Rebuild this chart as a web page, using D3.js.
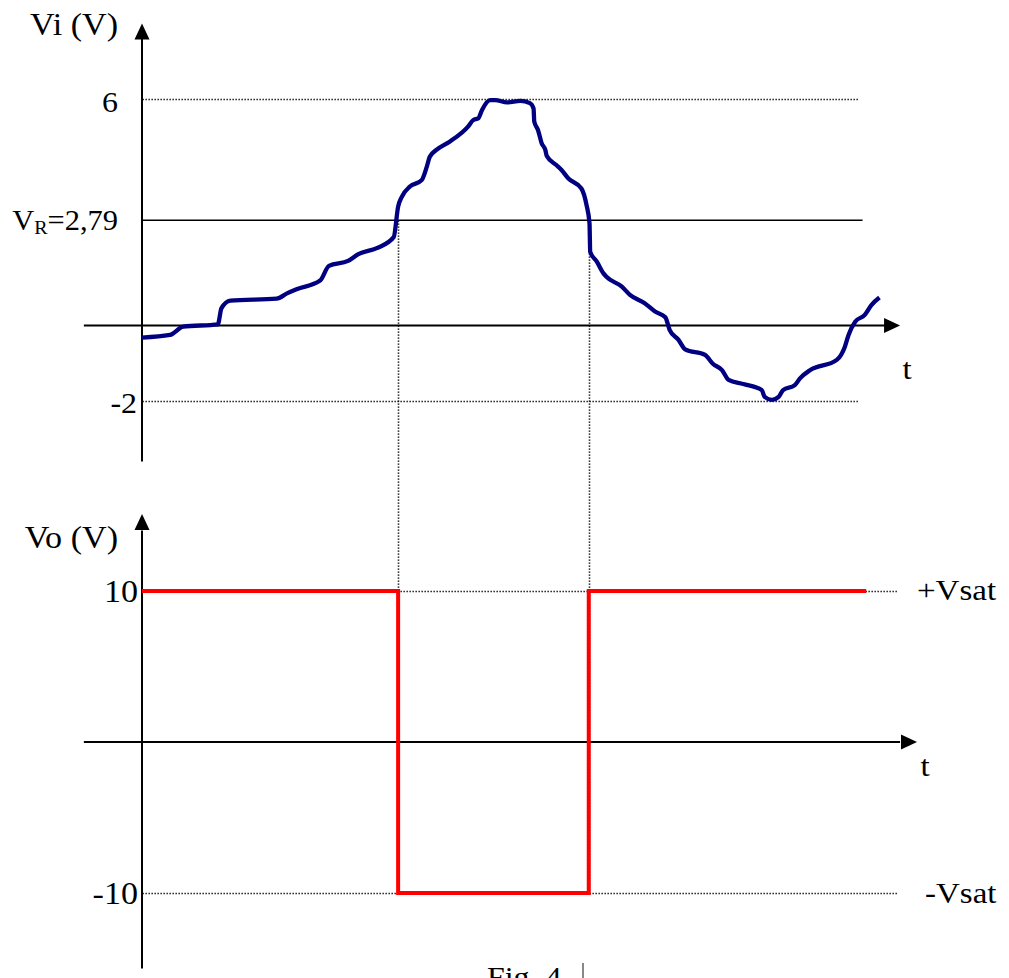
<!DOCTYPE html>
<html>
<head>
<meta charset="utf-8">
<script src="https://cdn.jsdelivr.net/npm/d3@7"></script>
<style>
  body { margin: 0; background: #fff; }
  text { font-family: "Liberation Serif", "Times New Roman", serif; fill: #000; }
</style>
</head>
<body>
<div id="chart"></div>
<script>
// Vi(t) (t in arbitrary units, volts)
const viTime = [0, 0.38, 0.56, 1.03, 1.08, 1.20, 1.83, 1.97, 2.10, 2.42, 2.54, 2.80, 2.94, 3.19,
  3.42, 3.48, 3.53, 3.64, 3.80, 3.87, 3.91, 4.00, 4.18, 4.43, 4.50, 4.57, 4.62, 4.73, 4.80,
  4.96, 5.14, 5.27, 5.32, 5.33, 5.38, 5.43, 5.48, 5.50, 5.63, 5.70, 5.79, 5.97, 6.04, 6.08,
  6.09, 6.18, 6.27, 6.31, 6.52, 6.63, 6.83, 6.97, 7.11, 7.17, 7.29, 7.38, 7.65, 7.76, 7.88,
  7.97, 8.17, 8.42, 8.46, 8.56, 8.65, 8.71, 8.87, 8.94, 9.08, 9.44, 9.55, 9.60, 9.69, 9.82,
  9.91, 10.02];
const viVolts = [-0.32, -0.25, -0.03, 0.03, 0.46, 0.66, 0.71, 0.85, 0.96, 1.19, 1.58, 1.71, 1.89, 2.05,
  2.34, 3.15, 3.41, 3.68, 3.85, 4.21, 4.47, 4.65, 4.87, 5.27, 5.44, 5.49, 5.71, 5.97, 5.97,
  5.91, 5.95, 5.89, 5.75, 5.40, 5.18, 4.83, 4.65, 4.49, 4.25, 4.12, 3.90, 3.63, 3.19, 2.71,
  1.95, 1.69, 1.38, 1.29, 1.03, 0.81, 0.59, 0.37, 0.22, -0.12, -0.38, -0.63, -0.78, -1.02, -1.18,
  -1.44, -1.55, -1.71, -1.89, -1.97, -1.89, -1.71, -1.58, -1.40, -1.18, -0.91, -0.56, -0.25, 0.10, 0.28,
  0.54, 0.74];

// comparator output Vo(t)
const voTime = [0, 3.48, 3.48, 6.07, 6.07, 9.84];
const voVolts = [10, 10, -10, -10, 10, 10];

const vRef = 2.79;
const switchTimes = [3.48, 6.07];
const viTicks = [6, -2];
const voTicks = [10, -10];
const voTickNames = ["+Vsat", "-Vsat"];

const width = 1009, height = 978;

const svg = d3.select("#chart").append("svg")
  .attr("width", width)
  .attr("height", height);

const x = d3.scaleLinear().domain([0, 10]).range([142, 878]);
const yi = d3.scaleLinear().domain([-2, 6]).range([401, 99]);
const yo = d3.scaleLinear().domain([-10, 10]).range([893, 591]);

// dotted guide line, snapped to the pixel grid so the dots stay dark
function dotted(x1, y1, x2, y2) {
  const s = v => Math.round(v) + 0.5;
  svg.append("line")
    .attr("x1", s(x1)).attr("x2", s(x2))
    .attr("y1", s(y1)).attr("y2", s(y2))
    .attr("stroke", "#000").attr("stroke-width", 1.6)
    .attr("stroke-dasharray", "1.3,1.7");
}

// small helper for filled arrow heads
function arrow(px, py, dir) {
  const L = 16, W = 7.5;
  let pts;
  if (dir === "up") pts = [[px, py], [px - W, py + L], [px + W, py + L]];
  else pts = [[px, py], [px - L, py - W], [px - L, py + W]];
  svg.append("path")
    .attr("d", "M" + pts.map(p => p.join(",")).join("L") + "Z")
    .attr("fill", "#000");
}

function label(px, py, str, size, anchor) {
  return svg.append("text")
    .attr("transform", `translate(${px},${py}) scale(1.1,1)`)
    .attr("text-anchor", anchor || "end")
    .style("font-size", size + "px")
    .text(str);
}

// ---------- top panel: Vi ----------
viTicks.forEach(v => dotted(x(0), yi(v), x(9.73), yi(v)));
svg.append("line")
  .attr("x1", x(0)).attr("x2", x(9.79))
  .attr("y1", yi(vRef)).attr("y2", yi(vRef))
  .attr("stroke", "#000").attr("stroke-width", 1.6);

// dotted drop lines at the switching instants
switchTimes.forEach(t => dotted(x(t), yi(vRef), x(t), yo(-10)));

// axes
svg.append("line")
  .attr("x1", x(0)).attr("x2", x(0))
  .attr("y1", yi(-3.6)).attr("y2", yi(7.6))
  .attr("stroke", "#000").attr("stroke-width", 2);
arrow(x(0), yi(8.0), "up");
svg.append("line")
  .attr("x1", x(-0.79)).attr("x2", x(10.1))
  .attr("y1", yi(0)).attr("y2", yi(0))
  .attr("stroke", "#000").attr("stroke-width", 2.2);
arrow(x(10.3), yi(0), "right");

const viLine = d3.line()
  .x((d, i) => x(viTime[i]))
  .y(d => yi(d))
  .curve(d3.curveMonotoneX);

svg.append("path")
  .datum(viVolts)
  .attr("fill", "none")
  .attr("stroke", "#000080")
  .attr("stroke-width", 4.3)
  .attr("stroke-linejoin", "round")
  .attr("d", viLine);

label(118, 35, "Vi (V)", 31);
label(118, yi(6) + 13, "6", 29);
label(137, yi(-2) + 12, "-2", 29);
const vr = svg.append("text")
  .attr("transform", `translate(118,${yi(vRef) + 10}) scale(1.05,1)`)
  .attr("text-anchor", "end")
  .style("font-size", "29px");
vr.append("tspan").text("V");
vr.append("tspan").style("font-size", "19px").attr("dy", 4).text("R");
vr.append("tspan").attr("dy", -4).text("=2,79");
label(907, yi(0) + 53, "t", 30, "middle");

// ---------- bottom panel: Vo ----------
voTicks.forEach(v => dotted(x(0), yo(v), x(10.27), yo(v)));

svg.append("line")
  .attr("x1", x(0)).attr("x2", x(0))
  .attr("y1", yo(-15)).attr("y2", yo(14))
  .attr("stroke", "#000").attr("stroke-width", 2);
arrow(x(0), yo(15.1), "up");
svg.append("line")
  .attr("x1", x(-0.79)).attr("x2", x(10.3))
  .attr("y1", yo(0)).attr("y2", yo(0))
  .attr("stroke", "#000").attr("stroke-width", 2.2);
arrow(x(10.53), yo(0), "right");

const voLine = d3.line()
  .x((d, i) => x(voTime[i]))
  .y(d => yo(d));

svg.append("path")
  .datum(voVolts)
  .attr("fill", "none")
  .attr("stroke", "#ff0000")
  .attr("stroke-width", 4)
  .attr("d", voLine);

label(118, 548, "Vo (V)", 31);
voTicks.forEach(v => label(138, yo(v) + 11, String(v), 31));
label(917, yo(10) + 9, voTickNames[0], 30, "start");
label(925, yo(-10) + 10, voTickNames[1], 30, "start");
label(925, yo(0) + 34, "t", 30, "middle");

// caption (cut off at the bottom edge, as in the source)
label(487, 987, "Fig. 4", 29, "start");
svg.append("line")
  .attr("x1", 583).attr("x2", 583)
  .attr("y1", 963).attr("y2", height)
  .attr("stroke", "#888").attr("stroke-width", 2);
</script>
</body>
</html>
